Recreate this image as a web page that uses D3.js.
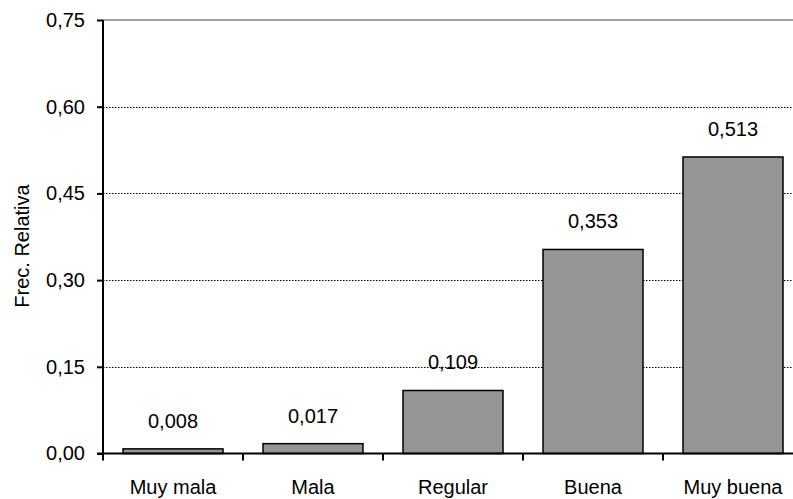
<!DOCTYPE html>
<html>
<head>
<meta charset="utf-8">
<script src="https://cdn.jsdelivr.net/npm/d3@7"></script>
<style>
    body { margin: 0; background: #fff; }
    svg { display: block; font-family: "Liberation Sans", Arial, sans-serif; }
</style>
</head>
<body>
<div id="chart"></div>
<script>
var categories = ["Muy mala", "Mala", "Regular", "Buena", "Muy buena"];
var values = [0.008, 0.017, 0.109, 0.353, 0.513];
var yTicks = [0, 0.15, 0.30, 0.45, 0.60, 0.75];

var width = 793,
    height = 499;

var plotLeft = 103, plotRight = 803, plotTop = 20, plotBottom = 453.5;

var locale = d3.formatLocale({decimal: ",", thousands: ".", grouping: [3], currency: ["", ""]});
var fmtTick = locale.format(".2f");
var fmtVal = locale.format(".3f");

var svg = d3.select("#chart")
    .append("svg")
    .attr("width", width)
    .attr("height", height);

var x = d3.scaleBand()
    .domain(categories)
    .range([plotLeft, plotRight])
    .paddingInner(40 / 140)
    .paddingOuter(20 / 140);

var y = d3.scaleLinear()
    .domain([0, 0.75])
    .range([plotBottom, plotTop]);

// dotted grid lines
svg.selectAll(".grid")
    .data(yTicks.filter(function (d) { return d > 0 && d < 0.75; }))
    .enter().append("line")
    .attr("class", "grid")
    .attr("x1", plotLeft)
    .attr("x2", width)
    .attr("y1", function (d) { return Math.round(y(d)) + 0.5; })
    .attr("y2", function (d) { return Math.round(y(d)) + 0.5; })
    .attr("stroke", "#000")
    .attr("stroke-width", 1)
    .attr("stroke-dasharray", "1.5,1.5");

// top border
svg.append("line")
    .attr("x1", plotLeft)
    .attr("x2", width)
    .attr("y1", y(0.75))
    .attr("y2", y(0.75))
    .attr("stroke", "#808080")
    .attr("stroke-width", 1.5);

// bars
svg.selectAll(".bar")
    .data(values)
    .enter().append("rect")
    .attr("class", "bar")
    .attr("x", function (d, i) { return x(categories[i]); })
    .attr("width", x.bandwidth())
    .attr("y", function (d) { return y(d); })
    .attr("height", function (d) { return y(0) - y(d); })
    .attr("fill", "#969696")
    .attr("stroke", "#000")
    .attr("stroke-width", 1.5);

// value labels
svg.selectAll(".val")
    .data(values)
    .enter().append("text")
    .attr("class", "val")
    .attr("x", function (d, i) { return x(categories[i]) + x.bandwidth() / 2; })
    .attr("y", function (d) { return y(d) - 21; })
    .attr("text-anchor", "middle")
    .attr("font-size", "20px")
    .attr("fill", "#000")
    .text(function (d) { return fmtVal(d); });

// y axis
var yAxis = d3.axisLeft(y)
    .tickValues(yTicks)
    .tickSize(6)
    .tickPadding(12)
    .tickFormat(fmtTick);

var yg = svg.append("g")
    .attr("transform", "translate(" + plotLeft + ",0)")
    .call(yAxis);
yg.select(".domain").remove();
yg.selectAll(".tick line").attr("stroke", "#000").attr("stroke-width", 2);
yg.selectAll(".tick text")
    .attr("font-size", "20px")
    .attr("font-family", "Liberation Sans, Arial, sans-serif")
    .attr("fill", "#000");

// x axis ticks at band boundaries
var bounds = d3.range(categories.length + 1).map(function (i) { return plotLeft + i * x.step(); });
svg.selectAll(".xtick")
    .data(bounds)
    .enter().append("line")
    .attr("class", "xtick")
    .attr("x1", function (d) { return d; })
    .attr("x2", function (d) { return d; })
    .attr("y1", plotBottom)
    .attr("y2", plotBottom + 7)
    .attr("stroke", "#000")
    .attr("stroke-width", 2);

svg.selectAll(".xlabel")
    .data(categories)
    .enter().append("text")
    .attr("class", "xlabel")
    .attr("x", function (d) { return x(d) + x.bandwidth() / 2; })
    .attr("y", 494)
    .attr("text-anchor", "middle")
    .attr("font-size", "20px")
    .attr("fill", "#000")
    .text(function (d) { return d; });

// axis lines
svg.append("line")
    .attr("x1", plotLeft).attr("x2", plotLeft)
    .attr("y1", plotTop).attr("y2", plotBottom + 1)
    .attr("stroke", "#000").attr("stroke-width", 2);
svg.append("line")
    .attr("x1", plotLeft - 6).attr("x2", width)
    .attr("y1", plotBottom).attr("y2", plotBottom)
    .attr("stroke", "#000").attr("stroke-width", 2);

// y label
svg.append("text")
    .attr("transform", "translate(29,246) rotate(-90)")
    .attr("text-anchor", "middle")
    .attr("font-size", "20px")
    .attr("fill", "#000")
    .text("Frec. Relativa");
</script>
</body>
</html>
